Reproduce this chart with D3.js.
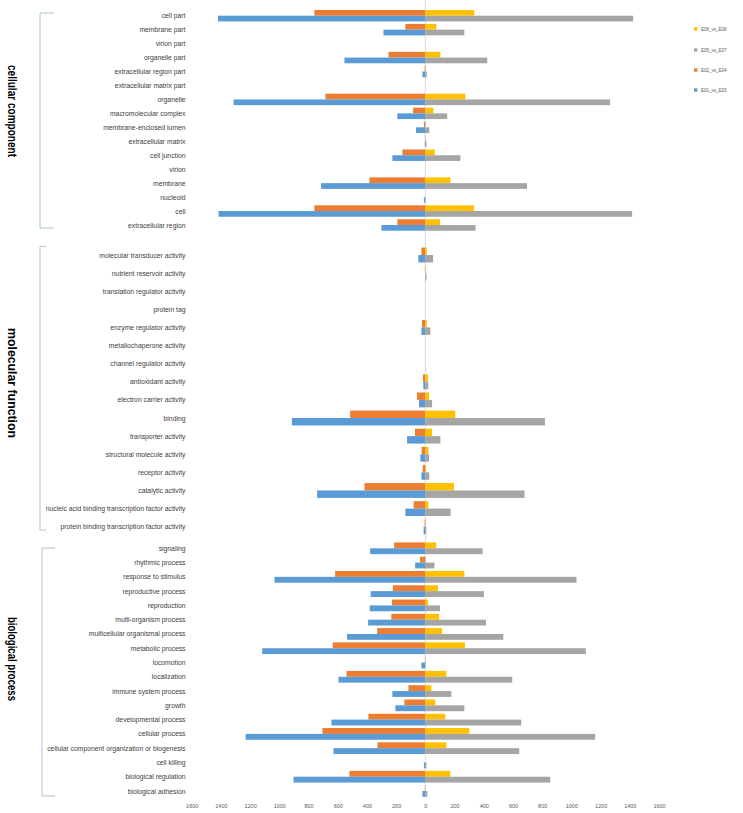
<!DOCTYPE html>
<html>
<head>
<meta charset="utf-8">
<script src="https://cdn.jsdelivr.net/npm/d3@7"></script>
<style>
  html, body { margin: 0; padding: 0; background: #fff; }
  svg { display: block; }
</style>
</head>
<body>
<svg id="chart" width="743" height="813"></svg>
<script>
// ---------- DATA ----------
const seriesNames = ["E06_vs_E08", "E05_vs_E07", "E02_vs_E04", "E01_vs_E03"];
const seriesColors = ["#FFC000", "#A5A5A5", "#ED7D31", "#5B9BD5"];
const tickValues = [-1600, -1400, -1200, -1000, -800, -600, -400, -200, 0, 200, 400, 600, 800, 1000, 1200, 1400, 1600];

// cellular component
const ccCategories = ["cell part", "membrane part", "virion part", "organelle part", "extracellular region part",
  "extracellular matrix part", "organelle", "macromolecular complex", "membrane-enclosed lumen",
  "extracellular matrix", "cell junction", "virion", "membrane", "nucleoid", "cell", "extracellular region"];
const ccE02 = [760, 137, 0, 253, 5, 0, 684, 84, 10, 3, 157, 0, 383, 0, 760, 191];
const ccE06 = [335, 75, 0, 103, 0, 0, 274, 55, 0, 0, 64, 0, 171, 0, 333, 100];
const ccE01 = [1420, 287, 0, 554, 20, 0, 1313, 192, 64, 4, 226, 0, 714, 10, 1416, 301];
const ccE05 = [1423, 267, 0, 424, 10, 0, 1265, 150, 27, 8, 240, 0, 696, 0, 1416, 344];

// molecular function
const mfCategories = ["molecular transducer activity", "nutrient reservoir activity", "translation regulator activity",
  "protein tag", "enzyme regulator activity", "metallochaperone activity", "channel regulator activity",
  "antioxidant activity", "electron carrier activity", "binding", "transporter activity",
  "structural molecule activity", "receptor activity", "catalytic activity",
  "nucleic acid binding transcription factor activity", "protein binding transcription factor activity"];
const mfE02 = [27, 3, 0, 0, 23, 0, 0, 16, 57, 515, 71, 25, 18, 417, 80, 5];
const mfE06 = [10, 0, 0, 0, 10, 0, 0, 18, 25, 205, 46, 21, 5, 196, 20, 0];
const mfE01 = [48, 0, 0, 0, 27, 0, 0, 14, 43, 914, 125, 34, 27, 741, 137, 12];
const mfE05 = [53, 8, 0, 0, 34, 0, 0, 20, 46, 819, 103, 25, 27, 679, 173, 7];

// biological process
const bpCategories = ["signaling", "rhythmic process", "response to stimulus", "reproductive process", "reproduction",
  "multi-organism process", "multicellular organismal process", "metabolic process", "locomotion", "localization",
  "immune system process", "growth", "developmental process", "cellular process",
  "cellular component organization or biogenesis", "cell killing", "biological regulation", "biological adhesion"];
const bpE02 = [214, 36, 618, 223, 228, 233, 330, 634, 3, 540, 116, 144, 390, 705, 328, 0, 520, 3];
const bpE06 = [75, 0, 267, 87, 18, 94, 114, 271, 0, 144, 41, 68, 137, 301, 144, 0, 171, 0];
const bpE01 = [378, 70, 1033, 374, 381, 392, 536, 1117, 27, 595, 226, 205, 643, 1231, 629, 10, 903, 20];
const bpE05 = [392, 62, 1035, 401, 100, 415, 534, 1099, 0, 595, 178, 267, 657, 1163, 643, 8, 855, 14];

// ---------- CHART ----------
const svg = d3.select("#chart");
const x = d3.scaleLinear().domain([-1600, 1600]).range([191.7, 659]);

const labelFont = "'Liberation Sans Narrow', 'Liberation Sans', Arial, sans-serif";
const labelColor = "#404040";

// zero line (drawn first, under bars)
svg.append("line")
  .attr("x1", x(0)).attr("x2", x(0))
  .attr("y1", 0).attr("y2", 797)
  .attr("stroke", "#d9d9d9").attr("stroke-width", 1);

const sections = [
  { title: "cellular component", cats: ccCategories, e02: ccE02, e06: ccE06, e01: ccE01, e05: ccE05,
    yr: [15.7, 225], titleY: 111, titleLen: 92, br: { x: 40, y1: 13, y2: 228, t1: 54, t2: 54 } },
  { title: "molecular function", cats: mfCategories, e02: mfE02, e06: mfE06, e01: mfE01, e05: mfE05,
    yr: [255, 526.7], titleY: 383, titleLen: 110, br: { x: 40, y1: 246.5, y2: 530, t1: 46, t2: 46 } },
  { title: "biological process", cats: bpCategories, e02: bpE02, e06: bpE06, e01: bpE01, e05: bpE05,
    yr: [548.3, 791], titleY: 659, titleLen: 84, br: { x: 42, y1: 548, y2: 796, t1: 55, t2: 55 } }
];

sections.forEach(sec => {
  const y = d3.scalePoint().domain(sec.cats).range(sec.yr);
  const step = y.step();
  const h = step * 0.41;
  const g = svg.append("g");

  const rows = sec.cats.map((c, i) => ({ c, e02: sec.e02[i], e06: sec.e06[i], e01: sec.e01[i], e05: sec.e05[i] }));

  // top row: orange (left) & yellow (right)
  g.selectAll(".o").data(rows).enter().append("rect")
    .attr("x", d => x(-d.e02)).attr("width", d => x(0) - x(-d.e02))
    .attr("y", d => y(d.c) - h).attr("height", h).attr("fill", seriesColors[2]);
  g.selectAll(".yl").data(rows).enter().append("rect")
    .attr("x", x(0)).attr("width", d => x(d.e06) - x(0))
    .attr("y", d => y(d.c) - h).attr("height", h).attr("fill", seriesColors[0]);
  // bottom row: blue (left) & gray (right)
  g.selectAll(".b").data(rows).enter().append("rect")
    .attr("x", d => x(-d.e01)).attr("width", d => x(0) - x(-d.e01))
    .attr("y", d => y(d.c)).attr("height", h).attr("fill", seriesColors[3]);
  g.selectAll(".gr").data(rows).enter().append("rect")
    .attr("x", x(0)).attr("width", d => x(d.e05) - x(0))
    .attr("y", d => y(d.c)).attr("height", h).attr("fill", seriesColors[1]);

  // category labels
  g.selectAll(".lab").data(sec.cats).enter().append("text")
    .attr("x", 185.5).attr("y", d => y(d))
    .attr("text-anchor", "end").attr("dominant-baseline", "central")
    .attr("font-family", labelFont).attr("font-size", 6.8).attr("fill", labelColor)
    .text(d => d);

  // bracket
  const b = sec.br;
  g.append("path")
    .attr("d", `M${b.t1},${b.y1}H${b.x}V${b.y2}H${b.t2}`)
    .attr("fill", "none").attr("stroke", "#a9c6d2").attr("stroke-width", 1);

  // section title
  g.append("text")
    .attr("transform", `translate(12,${sec.titleY}) rotate(90)`)
    .attr("text-anchor", "middle").attr("dominant-baseline", "central")
    .attr("font-family", "'Liberation Sans', Arial, sans-serif").attr("font-weight", "bold")
    .attr("font-size", 12).attr("fill", "#000")
    .attr("textLength", sec.titleLen).attr("lengthAdjust", "spacingAndGlyphs")
    .text(sec.title);
});

// x axis
const axis = d3.axisBottom(x).tickValues(tickValues).tickSize(0).tickFormat(d => Math.abs(d));
const ax = svg.append("g").attr("transform", "translate(0,801)").call(axis);
ax.select(".domain").remove();
ax.selectAll("text").attr("font-family", labelFont).attr("font-size", 5.5).attr("fill", "#595959");

// legend
const leg = svg.append("g");
const legY = [29, 50, 70, 90];
seriesNames.forEach((n, i) => {
  leg.append("rect").attr("x", 694).attr("y", legY[i] - 1.7).attr("width", 3.4).attr("height", 3.4)
    .attr("fill", seriesColors[i]);
  leg.append("text").attr("x", 701).attr("y", legY[i])
    .attr("dominant-baseline", "central")
    .attr("font-family", labelFont).attr("font-size", 4.5).attr("fill", "#595959")
    .text(n);
});
</script>
</body>
</html>
